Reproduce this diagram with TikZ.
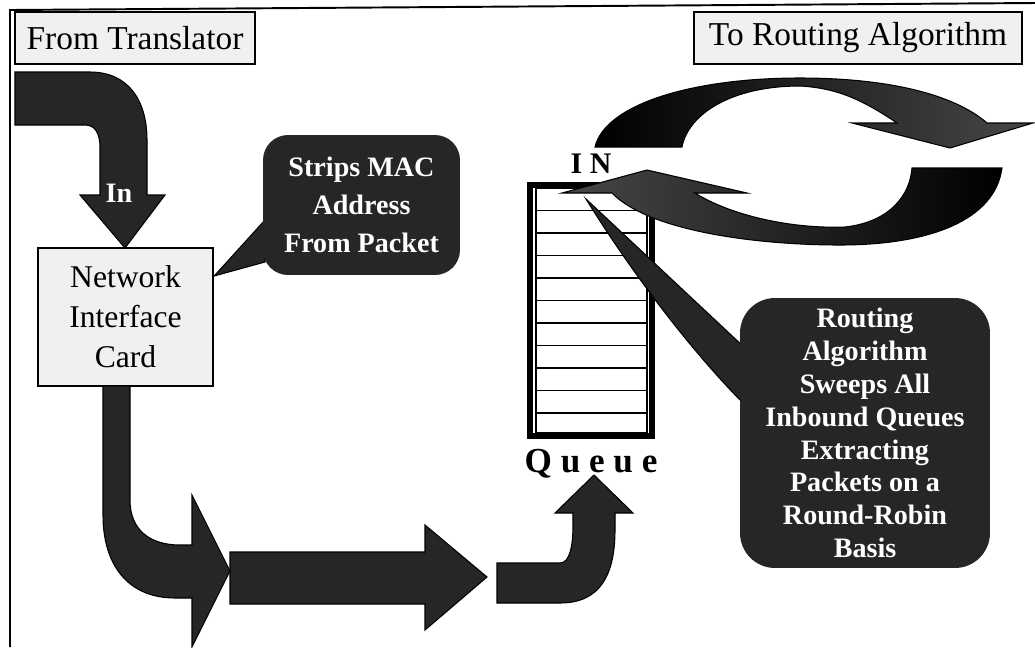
\documentclass[tikz,border=0pt]{standalone}
\usepackage{fontspec}
\setmainfont{Liberation Serif}
\usetikzlibrary{positioning,calc}
\tikzset{
    tagbox/.style={
           rectangle,
           draw=black, thick,
           fill=black!6,
           inner sep=0pt,
           minimum height=1.04cm,
           font=\fontsize{19}{22}\selectfont,
           },
    cardbox/.style={
           rectangle,
           draw=black, line width=1.3pt,
           fill=black!6,
           inner sep=0pt,
           align=center,
           font=\fontsize{18}{22.7}\selectfont,
           },
    bubble/.style={
           rectangle,
           rounded corners=0.5cm,
           fill=black!85,
           text=white,
           inner sep=0pt,
           align=center,
           },
    blockarrow/.style={
           fill=black!85,
           draw=black, line width=0.6pt,
           },
}
\begin{document}
\begin{tikzpicture}
[
x=0.02cm, y=-0.02cm
]
\useasboundingbox (0,0) rectangle (1035,647);

 % frame
 \draw[line width=1.1pt] (10,647) -- (10,10) -- (1035,3);

 % LABELS
 \node[tagbox,
 minimum width=4.8cm] (FROMTR) at (135,38)
 {From Translator};

 \node[tagbox,
 minimum width=6.56cm] (TOROUTE) at (858,38)
 {To Routing Algorithm};

 % incoming arrow
 \filldraw[blockarrow] (15,72) -- (90,72) .. controls (128,72) and (147,100) .. (147,140)
  -- (147,195) -- (165,195) -- (125,248) -- (80,195) -- (100,195) -- (100,148)
  .. controls (100,133) and (95,125) .. (85,125) -- (15,125) -- cycle;
 \node[text=white, font=\bfseries\fontsize{16}{17}\selectfont] (INLBL) at (119,193) {In};

 % NIC
 \node[cardbox,
 minimum width=3.5cm,
 minimum height=2.76cm] (NIC) at (125.5,317)
 {Network\\Interface\\Card};

 % callout on the NIC
 \filldraw[blockarrow] (265,220) -- (NIC.east |- 0,276) -- (265,262) -- cycle;
 \node[bubble,
 minimum width=3.94cm,
 minimum height=2.8cm,
 font=\bfseries\fontsize{16}{21.5}\selectfont] (STRIPS) at (361.5,205)
 {Strips MAC\\Address\\From Packet};

 % bottom arrows
 \filldraw[blockarrow] (103,386) -- (130,386) -- (130,500) .. controls (130,530) and (150,545) .. (180,545)
  -- (192,545) -- (192,495) -- (230,571) -- (192,647) -- (192,598) -- (175,598)
  .. controls (128,598) and (103,565) .. (103,515) -- cycle;
 \filldraw[blockarrow] (230,552) -- (425,552) -- (425,525) -- (487,577) -- (425,630) -- (425,604) -- (230,604) -- cycle;
 \filldraw[blockarrow] (497,563) -- (560,563) .. controls (570,563) and (573,545) .. (573,525)
  -- (573,513) -- (555,513) -- (594,475) -- (633,513) -- (615,513) -- (615,530)
  .. controls (615,575) and (600,603) .. (560,603) -- (497,603) -- cycle;

 % QUEUE
 \node[draw=black, line width=3.4pt,
 minimum width=2.44cm,
 minimum height=5.02cm,
 inner sep=0pt] (QUEUE) at (591,310.5) {};
 \draw[line width=0.7pt] (536,188) rectangle (647,433);
 \foreach \y in {1,...,10}
  \draw[line width=0.7pt] (536,188+22.5*\y) -- (647,188+22.5*\y);
 \node[font=\bfseries\fontsize{17}{18}\selectfont, above=0.05cm of QUEUE.north] (INTAG) {I N};
 \node[font=\bfseries\fontsize{20}{22}\selectfont, below=0.08cm of QUEUE.south] (QTAG) {Q u e u e};

 % round robin arrows
 \shade[left color=black, right color=black!72, draw=black, line width=0.6pt]
  (595,147) .. controls (605,105) and (690,78) .. (800,78) .. controls (890,78) and (955,95) .. (987,123)
  -- (1033,123) -- (950,148) -- (852,123) -- (897,123)
  .. controls (860,98) and (835,88) .. (800,86) .. controls (730,86) and (688,115) .. (682,147) -- cycle;
 \shade[left color=black!72, right color=black, draw=black, line width=0.6pt]
  (912,168) -- (1002,168) .. controls (995,220) and (930,245) .. (840,245)
  .. controls (760,245) and (650,232) .. (612,193) -- (562,193) -- (647,170) -- (747,193) -- (695,193)
  .. controls (730,215) and (790,229) .. (845,227) .. controls (890,222) and (910,195) .. (912,168) -- cycle;

 % callout on the queue
 \filldraw[blockarrow] (586,199) -- (745,348) -- (745,405) .. controls (690,350) and (630,270) .. (586,199) -- cycle;
 \node[bubble,
 rounded corners=0.7cm,
 minimum width=5cm,
 minimum height=5.4cm,
 font=\bfseries\fontsize{16}{18.7}\selectfont] (SWEEP) at (865,433)
 {Routing\\Algorithm\\Sweeps All\\Inbound Queues\\Extracting\\Packets on a\\Round-Robin\\Basis};

\end{tikzpicture}
\end{document}
